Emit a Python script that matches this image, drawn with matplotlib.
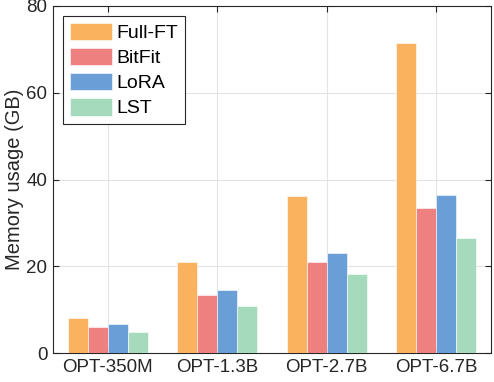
import numpy as np
import matplotlib
matplotlib.use("Agg")
import matplotlib.pyplot as plt

plt.rcParams['font.family'] = ['Liberation Sans', 'DejaVu Sans']

models = ['OPT-350M', 'OPT-1.3B', 'OPT-2.7B', 'OPT-6.7B']
methods = ['Full-FT', 'BitFit', 'LoRA', 'LST']
full_ft = [8.0, 21.0, 36.2, 71.5]
bitfit = [6.0, 13.4, 21.0, 33.4]
lora = [6.7, 14.5, 23.0, 36.4]
lst = [4.8, 10.8, 18.2, 26.5]
colors = ['#FBB25E', '#EF8080', '#6A9ED6', '#A6DABD']

fig = plt.figure(figsize=(4.94, 3.82), dpi=100)
ax = fig.add_axes([53 / 494, 1 - 353 / 382, 438 / 494, 347 / 382])

x = np.arange(1, len(models) + 1)
w = 0.182
offsets = [-1.5 * w, -0.5 * w, 0.5 * w, 1.5 * w]
for vals, off, c, name in zip([full_ft, bitfit, lora, lst], offsets, colors, methods):
    ax.bar(x + off, vals, width=w, color=c, edgecolor='white', linewidth=0.4,
           label=name, zorder=3)

ax.set_xlim(0.5, 4.5)
ax.set_ylim(0, 80)
ax.set_xticks(x)
ax.set_xticklabels(models)
ax.set_yticks([0, 20, 40, 60, 80])
ax.set_ylabel('Memory usage (GB)', fontsize=14.5, color='#262626', labelpad=2)
ax.tick_params(labelsize=13.5, direction='in', length=4, width=0.8,
               top=True, right=True, colors='#262626', pad=4)
ax.grid(True, color='#E3E3E3', linewidth=0.8, zorder=0)
for s in ax.spines.values():
    s.set_color('#262626')
    s.set_linewidth(0.8)

leg = ax.legend(loc='upper left', fontsize=14, fancybox=False, framealpha=1,
                edgecolor='#262626', borderpad=0.35, labelspacing=0.3,
                handlelength=2.2, handleheight=1.0, handletextpad=0.2,
                borderaxespad=0.5)
leg.get_frame().set_linewidth(0.8)
for t in leg.get_texts():
    t.set_color('#000000')

fig.savefig('out.png', dpi=100)
